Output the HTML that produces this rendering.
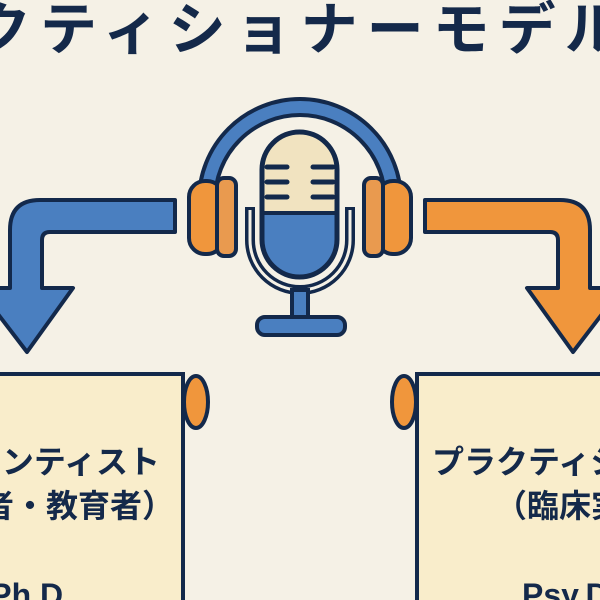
<!DOCTYPE html>
<html><head><meta charset="utf-8"><style>
html,body{margin:0;padding:0;background:#f5f1e6;}
svg{display:block;}
text{font-family:"Liberation Sans","Noto Sans CJK JP",sans-serif;font-weight:bold;fill:#14294a;}
</style></head><body>
<svg width="600" height="600" viewBox="0 0 600 600" xmlns="http://www.w3.org/2000/svg">
<rect width="600" height="600" fill="#f5f1e6"/>
<text x="-158" y="49" font-size="57" letter-spacing="9">プラクティショナーモデル</text>
<!-- arrows -->
<path d="M175,200 L40,200 Q10,200 10,230 L10,288 L-22,288 L27,352 L73,288 L42,288 L42,240 Q42,232 50,232 L175,232 Z" fill="#4a7fc0" stroke="#13294b" stroke-width="4" stroke-linejoin="round"/>
<path d="M425,200 L560,200 Q590,200 590,230 L590,288 L622,288 L573,352 L527,288 L558,288 L558,240 Q558,232 550,232 L425,232 Z" fill="#f0963c" stroke="#13294b" stroke-width="4" stroke-linejoin="round"/>
<!-- headband -->
<path d="M207,200 A93,93 0 0 1 393,200" fill="none" stroke="#13294b" stroke-width="20"/>
<path d="M207,200 A93,93 0 0 1 393,200" fill="none" stroke="#4a7fc0" stroke-width="12"/>
<!-- cups -->
<rect x="189" y="181" width="34" height="73" rx="16" fill="#f0963c" stroke="#13294b" stroke-width="4"/>
<rect x="217" y="178" width="19" height="78" rx="7" fill="#e99a4f" stroke="#13294b" stroke-width="4"/>
<rect x="377" y="181" width="34" height="73" rx="16" fill="#f0963c" stroke="#13294b" stroke-width="4"/>
<rect x="364" y="178" width="19" height="78" rx="7" fill="#e99a4f" stroke="#13294b" stroke-width="4"/>
<!-- holder -->
<path d="M250,207 L250,240 A50,50 0 0 0 350,240 L350,207" fill="none" stroke="#13294b" stroke-width="10"/>
<path d="M250,210 L250,240 A50,50 0 0 0 350,240 L350,210" fill="none" stroke="#f5f1e6" stroke-width="3"/>
<!-- mic -->
<path d="M262,213 L262,169 A37.5,37.5 0 0 1 337,169 L337,213 Z" fill="#f1e3c0"/>
<path d="M262,213 L337,213 L337,240 A37.5,37.5 0 0 1 262,240 Z" fill="#4a7fc0"/>
<rect x="262" y="132" width="75" height="145" rx="37.5" fill="none" stroke="#13294b" stroke-width="5"/>
<line x1="262" y1="213" x2="337" y2="213" stroke="#13294b" stroke-width="4"/>
<g stroke="#13294b" stroke-width="5" stroke-linecap="round">
<line x1="267" y1="167" x2="287" y2="167"/><line x1="267" y1="182" x2="287" y2="182"/><line x1="267" y1="197" x2="287" y2="197"/>
<line x1="313" y1="167" x2="333" y2="167"/><line x1="313" y1="182" x2="333" y2="182"/><line x1="313" y1="197" x2="333" y2="197"/>
</g>
<rect x="292" y="290" width="16" height="30" fill="#4a7fc0" stroke="#13294b" stroke-width="4"/>
<rect x="257" y="317" width="88" height="18" rx="8" fill="#4a7fc0" stroke="#13294b" stroke-width="4"/>
<!-- scrolls -->
<rect x="-10" y="374" width="193" height="240" fill="#f9edcb" stroke="#13294b" stroke-width="4"/>
<ellipse cx="196" cy="402" rx="12" ry="26" fill="#f0963c" stroke="#13294b" stroke-width="4"/>
<rect x="417" y="374" width="200" height="240" fill="#f9edcb" stroke="#13294b" stroke-width="4"/>
<ellipse cx="404" cy="402" rx="12" ry="26" fill="#f0963c" stroke="#13294b" stroke-width="4"/>
<text x="160" y="473" font-size="32" text-anchor="end">サイエンティスト</text>
<text x="174" y="517" font-size="32" text-anchor="end">（研究者・教育者）</text>
<text x="72" y="606" font-size="32" text-anchor="end">Ph.D.</text>
<text x="432" y="473" font-size="32">プラクティショナー</text>
<text x="495" y="517" font-size="32">（臨床実践者）</text>
<text x="522" y="606" font-size="32">Psy.D.</text>
</svg>
</body></html>
